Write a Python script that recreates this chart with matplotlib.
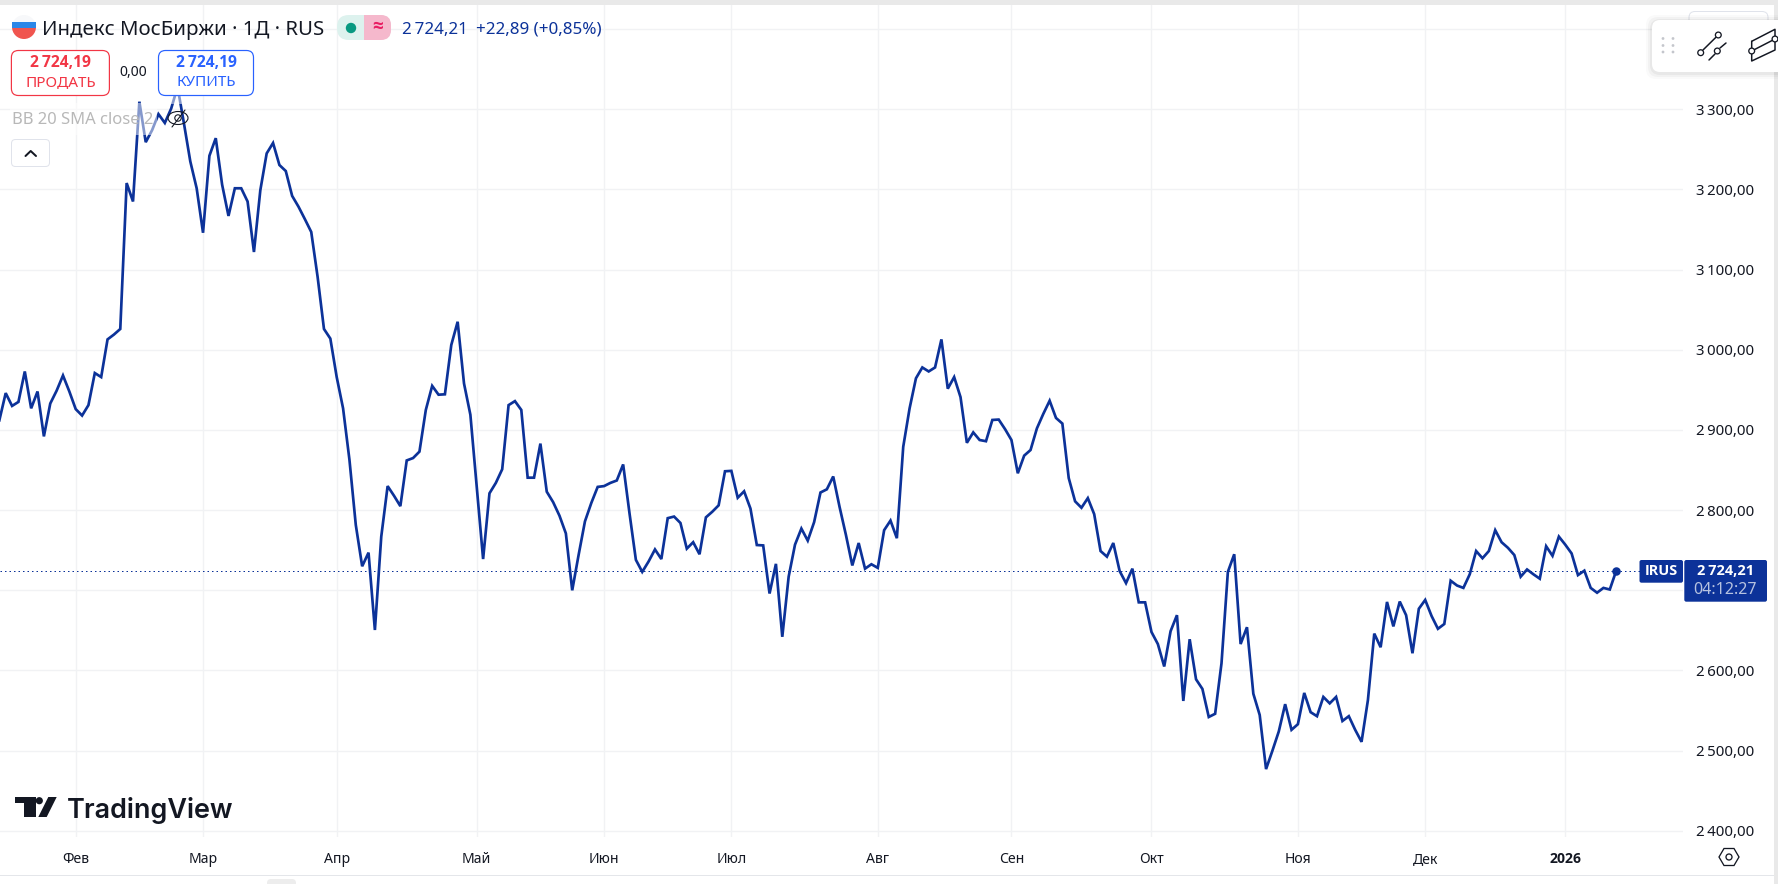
import matplotlib
matplotlib.use("Agg")
import matplotlib.pyplot as plt
from matplotlib.patches import FancyBboxPatch, Rectangle, Circle, Ellipse, Polygon, Wedge
from matplotlib.transforms import ScaledTranslation

plt.rcParams['font.family'] = ['Noto Sans', 'DejaVu Sans']
BOLD = ['Open Sans', 'DejaVu Sans']

# ---- data -------------------------------------------------------------
close_1 = [2912, 2946, 2930, 2935, 2973, 2927, 2948, 2892, 2933, 2949, 2968, 2948, 2926, 2918, 2931, 2971,
           2966, 3013, 3019, 3026, 3208, 3185, 3309.5, 3259, 3274, 3294, 3283, 3301, 3328, 3282.5, 3235, 3201.5,
           3146, 3242, 3264, 3206, 3167, 3201.5, 3201.5, 3185, 3122, 3199, 3245, 3258, 3230.5, 3223, 3192, 3178.5,
           3163, 3147, 3091, 3026, 3014, 2966, 2927, 2863, 2781.5, 2730, 2747, 2650.5, 2767, 2830, 2818, 2805]
close_2 = [2862, 2865, 2873, 2925, 2955, 2944, 2944.5, 3006, 3035, 2958, 2919, 2829, 2739, 2821, 2834, 2851,
           2931, 2936, 2925, 2840.5, 2840.5, 2883, 2823, 2810, 2793, 2771, 2700, 2744, 2786, 2809, 2829, 2830,
           2834, 2837, 2857, 2796, 2738, 2723, 2736, 2751, 2739, 2790, 2792, 2784, 2752, 2760, 2745, 2791,
           2798, 2806, 2848.5, 2849, 2815.5, 2823.5, 2802, 2756.5, 2756, 2696, 2733, 2642, 2717, 2757, 2777, 2762]
close_3 = [2785, 2822, 2826, 2842, 2804, 2769, 2731, 2759, 2727, 2732.5, 2728, 2775, 2787, 2765, 2879, 2927,
           2964.5, 2978, 2973, 2978, 3013, 2951.5, 2966, 2941, 2884, 2897, 2887.5, 2886, 2912.5, 2913, 2901, 2887.5,
           2846, 2868, 2875, 2902, 2920, 2936.5, 2915, 2908, 2840, 2811, 2803, 2815, 2795, 2749, 2742, 2759,
           2724, 2709, 2727, 2685, 2685, 2648, 2633, 2605, 2649, 2669, 2562, 2639, 2589, 2577, 2542, 2546]
close_4 = [2609, 2723, 2745, 2633, 2654, 2571, 2544.5, 2477, 2500, 2524, 2558, 2526, 2533, 2572, 2548, 2543,
           2567, 2559, 2567, 2537, 2543, 2526, 2511, 2563, 2646, 2629, 2685.5, 2655, 2686, 2669, 2621.5, 2677,
           2688, 2668, 2652, 2658, 2712, 2706, 2703, 2720, 2749, 2740, 2749, 2775, 2760, 2753, 2744, 2717,
           2726, 2720, 2714.5, 2755, 2743, 2767, 2757, 2746, 2719, 2724.5, 2703, 2697, 2703, 2701, 2724.21]
close = close_1 + close_2 + close_3 + close_4
bar_index = list(range(len(close)))
last_price = 2724.21

month_bars = [12, 32, 53, 75, 95, 115, 138, 159, 181, 204, 224, 246]
month_labels = ['Фев', 'Мар', 'Апр', 'Май', 'Июн', 'Июл', 'Авг', 'Сен', 'Окт', 'Ноя', 'Дек', '2026']
price_ticks = [2400, 2500, 2600, 2700, 2800, 2900, 3000, 3100, 3200, 3300, 3400]
price_labels = ['2\u2009400,00', '2\u2009500,00', '2\u2009600,00', '2\u2009700,00', '2\u2009800,00',
                '2\u2009900,00', '3\u2009000,00', '3\u2009100,00', '3\u2009200,00', '3\u2009300,00', '']

# ---- style ------------------------------------------------------------
W, H = 1778, 884
NAVY = '#0C3299'
GRID = '#F1F2F4'
FRAME = '#E9E9E9'
INK = '#131722'
px = 0.72  # font px -> pt at dpi 100

fig = plt.figure(figsize=(W / 100, H / 100), dpi=100, facecolor='white')

# main chart pane: 0..1683 px wide, 5..837 px high
ax = fig.add_axes([0, (H - 837) / H, 1683 / W, 832 / H])
ax.set_xlim(0.105, 264.5)
ax.set_ylim(2392.3, 3430.1)
for s in ax.spines.values():
    s.set_visible(False)
ax.set_axisbelow(True)
ax.grid(True, color=GRID, lw=1.0)
ax.set_xticks(month_bars)
ax.set_xticklabels(month_labels, fontsize=14 * px, color=INK)
ax.get_xticklabels()[-1].set_fontweight('bold')
ax.get_xticklabels()[-1].set_family(BOLD)
ax.yaxis.tick_right()
ax.set_yticks(price_ticks)
ax.set_yticklabels(price_labels, fontsize=15 * px, color=INK)
up = ScaledTranslation(0, 1.2 / 100, fig.dpi_scale_trans)
for t in ax.get_yticklabels():
    t.set_transform(t.get_transform() + up)
ax.tick_params(axis='both', length=0)
ax.tick_params(axis='x', pad=15 * px)
ax.tick_params(axis='y', pad=13 * px)
ax.plot(bar_index, close, color=NAVY, lw=2.7 * px, solid_joinstyle='miter', zorder=3)
ax.axhline(last_price, color=NAVY, lw=1.0 * px, ls=(0, (1.5, 3)), zorder=2)
ax.plot(bar_index[-1], close[-1], 'o', color=NAVY, ms=8.5 * px, mew=0, zorder=4)

# UI overlay in pixel coordinates
ui = fig.add_axes([0, 0, 1, 1], zorder=5)
ui.set_xlim(0, W)
ui.set_ylim(H, 0)
ui.axis('off')
ui.patch.set_alpha(0)


def box(x0, y0, x1, y1, r=4, fc='white', ec='none', lw=1.0, alpha=None, z=5):
    p = FancyBboxPatch((x0, y0), x1 - x0, y1 - y0, boxstyle=f'round,pad=0,rounding_size={r}',
                       fc=fc, ec=ec, lw=lw * px, alpha=alpha, zorder=z)
    ui.add_patch(p)
    return p


def label(x, y, s, size, color=INK, ha='left', weight='normal', z=8, family=None):
    kw = {'family': family} if family else {}
    return ui.text(x, y, s, fontsize=size * px, color=color, ha=ha, va='center',
                   fontweight=weight, zorder=z, **kw)


def seg(xs, ys, color=INK, lw=1.4, z=8):
    ui.plot(xs, ys, color=color, lw=lw * px, zorder=z, solid_capstyle='round')


# frame
ui.add_patch(Rectangle((0, 0), W, 5, fc=FRAME, ec='none', zorder=1))
ui.add_patch(Rectangle((1774, 0), 4, H, fc=FRAME, ec='none', zorder=1))
ui.add_patch(Rectangle((0, 875), 1774, 1.4, fc='#E4E6EA', ec='none', zorder=1))
box(267, 879, 296, 895, r=4, fc='#EDEDED', z=1)

# header fade over the series
ui.add_patch(Rectangle((10, 103), 147, 32, fc='white', alpha=0.5, ec='none', zorder=2))
ui.add_patch(Rectangle((157, 96), 33, 8, fc='white', alpha=0.5, ec='none', zorder=2))

# flag
ui.add_patch(Wedge((24, 27), 12, 180, 360, fc='#F7F8FA', ec='none', zorder=6))
ui.add_patch(Wedge((24, 27), 12, 0, 180, fc='#F0554F', ec='none', zorder=6))
ui.add_patch(Rectangle((12.2, 22), 23.6, 6, fc='#2B87E8', ec='none', zorder=7))

# title
label(42, 30, 'Индекс МосБиржи · 1Д · RUS', 20.4, color=INK)
box(337, 15, 391, 40, r=12, fc='#DDF2EE', z=6)
box(364, 15, 391, 40, r=10, fc='#F5B8CC', z=6)
ui.add_patch(Rectangle((364, 15), 10, 25, fc='#F5B8CC', ec='none', zorder=6))
ui.add_patch(Circle((351, 28), 5.2, fc='#089981', ec='none', zorder=7))
label(377.5, 27, '≈', 19, color='#E91E63', ha='center', weight='bold', family=BOLD)
label(402, 30, '2\u2009724,21', 17, color=NAVY)
label(476, 30, '+22,89 (+0,85%)', 17, color=NAVY)

# sell / buy
box(11.4, 50.5, 109.4, 95.5, r=7, fc='white', ec='#F23645', lw=1.2, z=6)
label(60.4, 63, '2\u2009724,19', 15.5, color='#F23645', ha='center', weight='bold', family=BOLD)
label(60.4, 83, 'ПРОДАТЬ', 15.3, color='#F23645', ha='center')
label(133.5, 72, '0,00', 14, color=INK, ha='center')
box(158.5, 50.5, 253.5, 95.5, r=7, fc='white', ec='#2962FF', lw=1.2, z=6)
label(206, 63, '2\u2009724,19', 15.5, color='#2962FF', ha='center', weight='bold', family=BOLD)
label(206, 83, 'КУПИТЬ', 15.3, color='#2962FF', ha='center')

# indicator legend
label(11.5, 120, 'BB 20 SMA close 2', 16.6, color='#B8B8B8')
ui.add_patch(Ellipse((178, 118), 20, 13, fc='none', ec=INK, lw=1.1 * px, zorder=8))
ui.add_patch(Circle((178, 118), 3.2, fc='none', ec=INK, lw=1.1 * px, zorder=8))
seg([172, 185], [127, 110], lw=1.1)
box(11.5, 139.5, 49.5, 166.5, r=4, fc='white', ec='#E0E3EB', lw=1.0, z=6)
seg([25.5, 30.7, 36], [156, 151, 156], color=INK, lw=2.0)

# top right toolbar
box(1689, 11.5, 1768, 40, r=6, fc='white', ec='#E0E3EB', lw=1.0, z=3)
for d, a in ((6, 0.02), (4, 0.03), (2, 0.04)):
    box(1652 - d, 20 - d + 1, 1790 + d, 72 + d + 1, r=10, fc='black', alpha=a, z=5)
box(1652, 20, 1790, 72, r=8, fc='white', z=6)
for dx in (1663, 1673):
    for dy in (38.5, 45.5, 52):
        ui.add_patch(Circle((dx, dy), 1.4, fc='#C4C6CC', ec='none', zorder=8))
seg([1703, 1715.7], [50, 37.5], lw=1.5)
seg([1709, 1715], [60, 54], lw=1.5)
seg([1720, 1726], [48, 43], lw=1.5)
for cx, cy in ((1718.3, 35), (1700.7, 52.7), (1717.3, 51)):
    ui.add_patch(Circle((cx, cy), 2.9, fc='white', ec=INK, lw=1.3 * px, zorder=9))
seg([1751.7, 1775, 1775], [41.3, 29.3, 39], lw=1.5)
seg([1775, 1775, 1751.7, 1751.7], [39, 50, 61, 41.3], lw=1.5)
seg([1751.7, 1775], [51, 39], lw=1.5)
for cx, cy in ((1751.7, 51), (1775, 39)):
    ui.add_patch(Circle((cx, cy), 2.9, fc='white', ec=INK, lw=1.3 * px, zorder=9))

# last price tags
box(1639.5, 560, 1683, 582.7, r=2, fc=NAVY, z=6)
label(1661.3, 571, 'IRUS', 14.5, color='white', ha='center', weight='bold', family=BOLD)
box(1684.3, 560, 1767, 601.7, r=2, fc=NAVY, z=6)
label(1725.5, 571, '2\u2009724,21', 14.5, color='white', ha='center', weight='bold', family=BOLD)
label(1725.5, 590, '04:12:27', 16, color='#B6C2E0', ha='center')

# settings icon
ui.add_patch(Polygon([(1719, 857), (1724, 848.5), (1734, 848.5), (1739, 857), (1734, 865.5), (1724, 865.5)],
                     closed=True, fc='white', ec=INK, lw=1.3 * px, zorder=8))
ui.add_patch(Circle((1729, 857), 3, fc='white', ec=INK, lw=1.3 * px, zorder=9))

# logo
ui.add_patch(Polygon([(15, 797), (36, 797), (36, 817), (24, 817), (24, 803), (15, 803)], closed=True,
                     fc=INK, ec='none', zorder=8))
ui.add_patch(Circle((39.3, 800.7), 3.6, fc=INK, ec='none', zorder=8))
ui.add_patch(Polygon([(48.3, 797), (56.7, 797), (46.7, 817), (38.3, 817)], closed=True,
                     fc=INK, ec='none', zorder=8))
label(66.5, 810, 'TradingView', 27, color=INK, weight='semibold', family=['Inter', 'DejaVu Sans'])

fig.savefig('out.png', dpi=100, facecolor='white')
